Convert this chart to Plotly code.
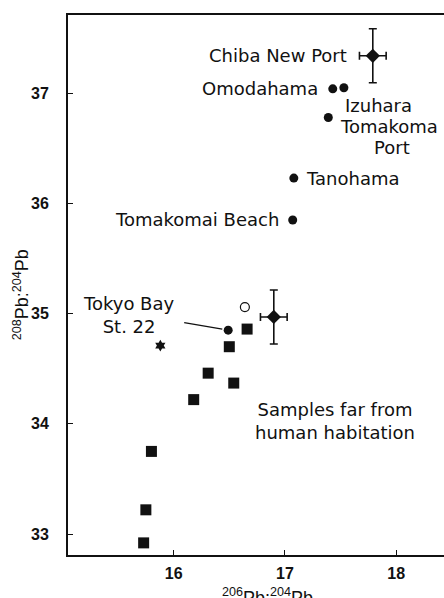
import plotly.graph_objects as go

# ---- data ----
urban_labels = ["Omodahama", "Izuhara", "Tomakomai Port", "Tanohama", "Tomakomai Beach", "Tokyo Bay St. 22"]
urban_x = [17.43, 17.53, 17.39, 17.08, 17.07, 16.49]
urban_y = [37.04, 37.05, 36.78, 36.23, 35.85, 34.85]

remote_x = [16.66, 16.50, 16.31, 16.54, 16.18, 15.80, 15.75, 15.73]
remote_y = [34.86, 34.70, 34.46, 34.37, 34.22, 33.75, 33.22, 32.92]

open_x = [16.64]
open_y = [35.06]

star_x = [15.88]
star_y = [34.71]

mean_labels = ["Chiba New Port", ""]
mean_x = [17.79, 16.90]
mean_y = [37.34, 34.97]
mean_xerr = [0.12, 0.12]
mean_yerr = [0.245, 0.245]

x_ticks = [16, 17, 18]
y_ticks = [33, 34, 35, 36, 37]

INK = "#111111"
LABEL_FONT = dict(family="DejaVu Sans, Liberation Sans, Arial", size=18, color=INK)

fig = go.Figure()

fig.add_trace(go.Scatter(
    x=remote_x, y=remote_y, mode="markers",
    marker=dict(symbol="square", size=11, color=INK),
    hoverinfo="skip", showlegend=False))

fig.add_trace(go.Scatter(
    x=urban_x, y=urban_y, mode="markers",
    marker=dict(symbol="circle", size=9, color=INK),
    hoverinfo="skip", showlegend=False))

fig.add_trace(go.Scatter(
    x=open_x, y=open_y, mode="markers",
    marker=dict(symbol="circle-open", size=9, color=INK, line=dict(width=1.2)),
    hoverinfo="skip", showlegend=False))

fig.add_trace(go.Scatter(
    x=star_x, y=star_y, mode="markers",
    marker=dict(symbol="hexagram", size=9, color=INK),
    hoverinfo="skip", showlegend=False))

fig.add_trace(go.Scatter(
    x=mean_x, y=mean_y, mode="markers",
    marker=dict(symbol="diamond", size=11, color=INK),
    error_x=dict(type="data", array=mean_xerr, color=INK, thickness=1.6, width=4),
    error_y=dict(type="data", array=mean_yerr, color=INK, thickness=1.6, width=4),
    hoverinfo="skip", showlegend=False))

ann = []
# Chiba New Port
ann.append(dict(x=mean_x[0], y=mean_y[0], text=mean_labels[0], showarrow=False,
                xanchor="right", yanchor="middle", xshift=-24, yshift=0, font=LABEL_FONT))
# Omodahama
ann.append(dict(x=urban_x[0], y=urban_y[0], text=urban_labels[0], showarrow=False,
                xanchor="right", yanchor="middle", xshift=-13, yshift=0, font=LABEL_FONT))
# Izuhara
ann.append(dict(x=urban_x[1], y=urban_y[1], text=urban_labels[1], showarrow=False,
                xanchor="left", yanchor="middle", xshift=-1, yshift=-18, font=LABEL_FONT))
# Tomakomai Port (cut at the right edge in the original)
ann.append(dict(x=urban_x[2], y=urban_y[2], text="Tomakoma", showarrow=False,
                xanchor="left", yanchor="middle", xshift=10, yshift=-9, font=LABEL_FONT))
ann.append(dict(x=urban_x[2], y=urban_y[2], text="Port", showarrow=False,
                xanchor="center", yanchor="middle", xshift=64, yshift=-30, font=LABEL_FONT))
# Tanohama
ann.append(dict(x=urban_x[3], y=urban_y[3], text=urban_labels[3], showarrow=False,
                xanchor="left", yanchor="middle", xshift=10, yshift=0, font=LABEL_FONT))
# Tomakomai Beach
ann.append(dict(x=urban_x[4], y=urban_y[4], text=urban_labels[4], showarrow=False,
                xanchor="right", yanchor="middle", xshift=-12, yshift=0, font=LABEL_FONT))
# Tokyo Bay St. 22
ann.append(dict(x=urban_x[5], y=urban_y[5], text="Tokyo Bay<br>St. 22", showarrow=False,
                xanchor="center", yanchor="middle", xshift=-100, yshift=15, align="center",
                font=LABEL_FONT))
ann.append(dict(x=urban_x[5], y=urban_y[5], text=" ", showarrow=True, arrowhead=0,
                arrowwidth=1.3, arrowcolor=INK, ax=-46, ay=-8, standoff=6,
                font=dict(size=2)))
# Samples far from human habitation
ann.append(dict(x=17.45, y=34.03, text="Samples far from<br>human habitation", showarrow=False,
                xanchor="center", yanchor="middle", align="center", font=LABEL_FONT))
# axis titles
ann.append(dict(xref="paper", yref="paper", x=0.53, y=-0.052, yanchor="top", xanchor="center",
                text="<sup>206</sup>Pb:<sup>204</sup>Pb", showarrow=False,
                font=dict(family="Liberation Sans, Arial", size=18, color=INK)))
ann.append(dict(xref="paper", yref="paper", x=-0.125, y=0.481, yanchor="middle", xanchor="center",
                textangle=-90,
                text="<sup>208</sup>Pb:<sup>204</sup>Pb", showarrow=False,
                font=dict(family="Liberation Sans, Arial", size=18, color=INK)))

tickfont = dict(family="Liberation Sans Narrow, Arial Narrow, Liberation Sans", size=16,
                color=INK, weight="bold")

fig.update_layout(
    width=444, height=598,
    margin=dict(l=68, r=0, t=15, b=43, pad=0),
    paper_bgcolor="white", plot_bgcolor="white",
    annotations=ann,
    xaxis=dict(range=[15.05, 18.43], tickvals=x_ticks, ticks="inside", ticklen=5,
               tickwidth=1.3, tickcolor=INK, showgrid=False, zeroline=False,
               showline=True, linecolor=INK, linewidth=2, mirror=True,
               tickfont=tickfont, ticklabelstandoff=3),
    yaxis=dict(range=[32.81, 37.71], tickvals=y_ticks, ticks="inside", ticklen=5,
               tickwidth=1.3, tickcolor=INK, showgrid=False, zeroline=False,
               showline=True, linecolor=INK, linewidth=2, mirror=False,
               tickfont=tickfont, ticklabelstandoff=14),
)

fig.write_html("out.html")
